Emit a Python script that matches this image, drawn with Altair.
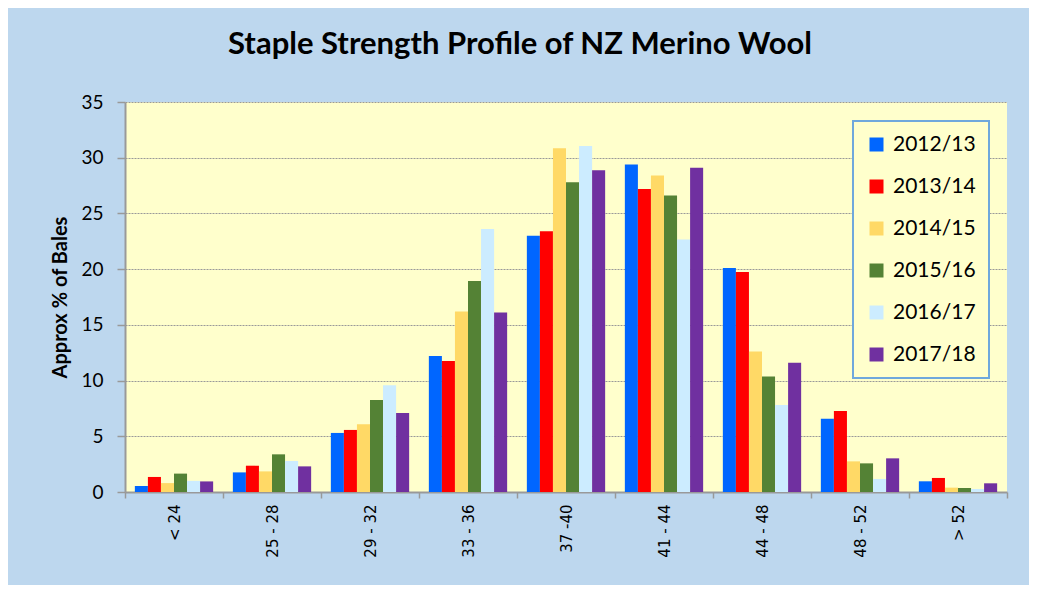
import altair as alt
import pandas as pd

categories = ["< 24", "25 - 28", "29 - 32", "33 - 36", "37 -40", "41 - 44", "44 - 48", "48 - 52", "> 52"]
seasons = ["2012/13", "2013/14", "2014/15", "2015/16", "2016/17", "2017/18"]
colors = ["#0066FF", "#FF0000", "#FFD966", "#548235", "#CCECFF", "#7030A0"]

s2012_13 = [0.54, 1.76, 5.30, 12.2, 23.0, 29.4, 20.1, 6.58, 0.96]
s2013_14 = [1.35, 2.36, 5.57, 11.76, 23.4, 27.2, 19.75, 7.27, 1.26]
s2014_15 = [0.80, 1.85, 6.07, 16.2, 30.85, 28.4, 12.6, 2.75, 0.39]
s2015_16 = [1.65, 3.38, 8.26, 18.94, 27.8, 26.6, 10.37, 2.57, 0.36]
s2016_17 = [1.00, 2.78, 9.57, 23.6, 31.06, 22.65, 7.8, 1.17, 0.27]
s2017_18 = [0.95, 2.30, 7.09, 16.1, 28.87, 29.1, 11.6, 3.02, 0.78]
series = [s2012_13, s2013_14, s2014_15, s2015_16, s2016_17, s2017_18]

y_ticks = [0, 5, 10, 15, 20, 25, 30, 35]

rows = []
for season, vals in zip(seasons, series):
    for cat, v in zip(categories, vals):
        rows.append({"range": cat, "season": season, "pct": v})
df = pd.DataFrame(rows)

chart = alt.Chart(df).mark_bar().encode(
    x=alt.X(
        "range:N", sort=categories, title=None,
        scale=alt.Scale(paddingInner=0, paddingOuter=0),
        axis=alt.Axis(
            tickBand="extent", labelAngle=270, labelAlign="right", labelBaseline="middle",
            labelFont="DejaVu Sans", labelFontSize=15, labelColor="black", labelPadding=6,
            tickSize=6, tickColor="#999999", tickWidth=1.5,
            domainColor="#999999", domainWidth=2, grid=False,
        ),
    ),
    xOffset=alt.XOffset(
        "season:N", sort=seasons,
        scale=alt.Scale(paddingInner=0, paddingOuter=0.755),
    ),
    y=alt.Y(
        "pct:Q", title="Approx % of Bales",
        scale=alt.Scale(domain=[0, 35], nice=False),
        axis=alt.Axis(
            values=y_ticks, labelFont="Lato", labelFontSize=19, labelColor="black",
            labelPadding=14, tickSize=8, tickColor="#999999", tickWidth=1.5,
            domainColor="#999999", domainWidth=2,
            grid=True, gridColor="#999999", gridDash=[2, 1], gridWidth=1,
            titleFont="Lato", titleFontSize=20, titleFontWeight="bold", titleColor="black",
            titlePadding=10,
        ),
    ),
    color=alt.Color(
        "season:N", sort=seasons,
        scale=alt.Scale(domain=seasons, range=colors),
        legend=alt.Legend(
            title=None, orient="none", legendX=728, legendY=19,
            symbolType="square", symbolSize=196, symbolStrokeWidth=0,
            labelFont="Lato", labelFontSize=21, labelColor="black", labelOffset=6,
            rowPadding=20, padding=13,
            strokeColor="#6FA8DC", fillColor="#FFFFCC",
        ),
    ),
).properties(
    width=882,
    height=390,
    title=alt.Title(
        "Staple Strength Profile of NZ Merino Wool",
        font="Lato", fontSize=31, fontWeight="bold", color="black",
        anchor="middle", frame="group", offset=40, baseline="bottom", dx=-46, dy=39,
    ),
    autosize=alt.AutoSizeParams(type="none"),
    padding={"left": 117, "top": 94, "right": 22, "bottom": 93},
    background="#BDD7EE",
).configure_view(
    fill="#FFFFCC", stroke=None
).configure_legend(
    strokeWidth=2
)

chart.save("out.html", embed_options={"renderer": "svg", "actions": False})
